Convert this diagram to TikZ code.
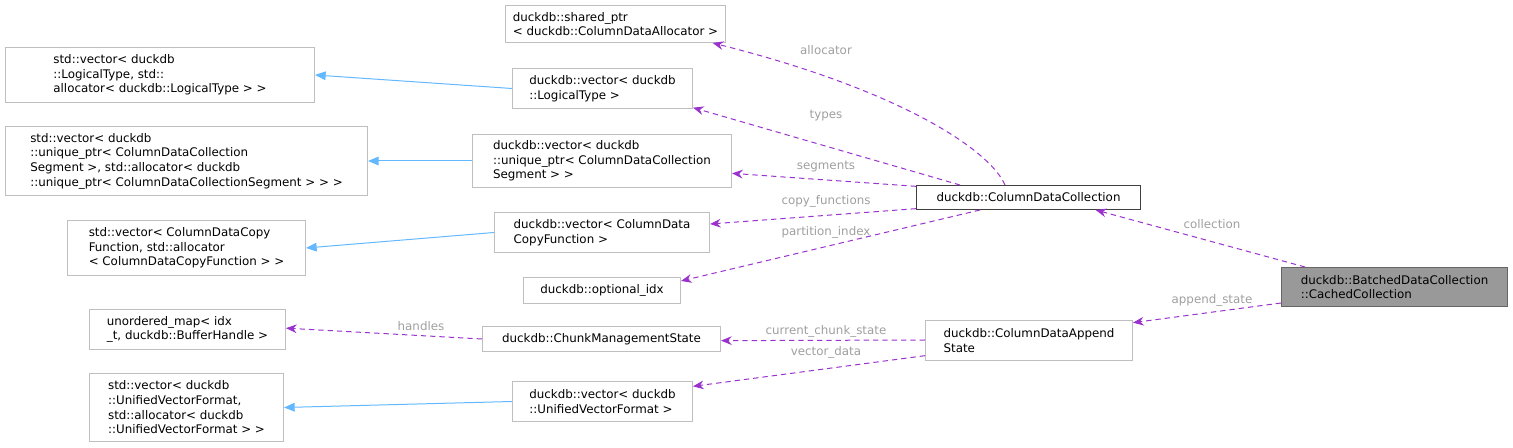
\documentclass[tikz,border=0pt]{standalone}
\usepackage{fontspec}
\setmainfont{DejaVu Sans}
\usetikzlibrary{arrows.meta}
\definecolor{pur}{HTML}{9A32CD}
\definecolor{blu}{HTML}{63B8FF}
\definecolor{lab}{HTML}{9F9F9F}
\definecolor{bor}{HTML}{BFBFBF}
\newcommand{\bx}[7][]{\node[box,#1,minimum width={(#5-#3)*0.75pt},minimum height={(#6-#4)*0.75pt}] (#2) at (#3,#4) {#7};}
\begin{document}
\begin{tikzpicture}[x=0.75pt,y=-0.75pt,
  box/.style={draw=bor,anchor=north west,inner sep=0pt,align=left,font=\fontsize{8.9}{11}\selectfont,line width=0.75pt},
  mem/.style={draw=pur,dashed,dash pattern=on 4pt off 3pt,line width=0.75pt,-{Stealth[length=8pt,width=6.5pt]}},
  inh/.style={draw=blu,line width=0.75pt,-{Triangle[length=8pt,width=6.5pt,fill=blu]}},
  lb/.style={text=lab,font=\fontsize{8.9}{11}\selectfont,inner sep=1pt}]
\path[use as bounding box] (0,0) rectangle (1513,448);
\bx{n1}{505}{5}{725}{42}{duckdb::shared\_ptr\\< duckdb::ColumnDataAllocator >}
\bx{n2}{5}{47}{314}{102}{std::vector< duckdb\\::LogicalType, std::\\allocator< duckdb::LogicalType > >}
\bx{n3}{512}{68}{692}{108}{duckdb::vector< duckdb\\::LogicalType >}
\bx{n4}{5}{126}{367}{195}{std::vector< duckdb\\::unique\_ptr< ColumnDataCollection\\Segment >, std::allocator< duckdb\\::unique\_ptr< ColumnDataCollectionSegment > > >}
\bx{n5}{472}{134}{731}{187}{duckdb::vector< duckdb\\::unique\_ptr< ColumnDataCollection\\Segment > >}
\bx[draw=black!75]{n6}{916}{185}{1140}{209}{duckdb::ColumnDataCollection}
\bx{n7}{67}{220}{305}{275}{std::vector< ColumnDataCopy\\Function, std::allocator\\< ColumnDataCopyFunction > >}
\bx{n8}{494}{212}{709}{252}{duckdb::vector< ColumnData\\CopyFunction >}
\bx{n9}{523}{277}{680}{303}{duckdb::optional\_idx}
\bx[draw=black!60,fill=black!40]{n10}{1281}{267}{1507}{306}{duckdb::BatchedDataCollection\\::CachedCollection}
\bx{n11}{89}{309}{285}{349}{unordered\_map< idx\\\_t, duckdb::BufferHandle >}
\bx{n12}{482}{326}{720}{351}{duckdb::ChunkManagementState}
\bx{n13}{925}{320}{1132}{360}{duckdb::ColumnDataAppend\\State}
\bx{n14}{89}{373}{283}{441}{std::vector< duckdb\\::UnifiedVectorFormat,\\ std::allocator< duckdb\\::UnifiedVectorFormat > >}
\bx{n15}{512}{381}{692}{421}{duckdb::vector< duckdb\\::UnifiedVectorFormat >}
% inheritance
\draw[inh] (n3.west) -- (n2.east);
\draw[inh] (n5.west) -- (n4.east);
\draw[inh] (n8.west) -- (n7.east);
\draw[inh] (n15.west) -- (n14.east);
% members
\draw[mem] ([xshift=-102pt]n6.north east) .. controls (990,150) and (900,90) .. ([xshift=-10pt]n1.south east);
\node[lb] (l1) at (826,50) {allocator};
\draw[mem] ([xshift=33pt]n6.north west) -- ([yshift=1pt]n3.south east);
\node[lb] (l2) at (826,116) {types};
\draw[mem] ([yshift=-1pt]n6.north west) -- ([yshift=11pt]n5.south east);
\node[lb] (l3) at (826,167) {segments};
\draw[mem] ([yshift=1pt]n6.south west) -- ([yshift=-9pt]n8.north east);
\node[lb] (l4) at (826,201) {copy\_functions};
\draw[mem] ([xshift=48pt]n6.south west) -- ([yshift=-3pt]n9.north east);
\node[lb] (l5) at (826,232) {partition\_index};
\draw[mem] ([xshift=18pt]n10.north west) -- ([xshift=-34pt]n6.south east);
\node[lb] (l6) at (1212,224) {collection};
\draw[mem] ([yshift=3pt]n10.south west) -- ([yshift=-2pt]n13.north east);
\node[lb] (l7) at (1212,300) {append\_state};
\draw[mem] ([yshift=-15pt]n13.north west) -- ([yshift=-11pt]n12.north east);
\node[lb] (l8) at (826,331) {current\_chunk\_state};
\draw[mem] ([yshift=4pt]n13.south west) -- ([yshift=-4pt]n15.north east);
\node[lb] (l9) at (826,352) {vector\_data};
\draw[mem] (n12.west) -- ([yshift=1pt]n11.east);
\node[lb] (l10) at (421,326) {handles};
\end{tikzpicture}
\end{document}
